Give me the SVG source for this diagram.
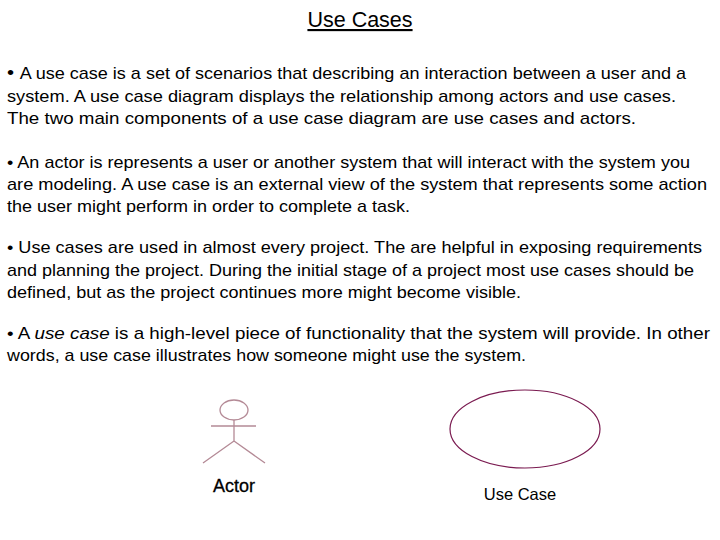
<svg xmlns="http://www.w3.org/2000/svg" width="720" height="540" viewBox="0 0 720 540">
<style>
text{font-family:"Liberation Sans",Arial,sans-serif;fill:#000}
.b{font-size:17px}
.fig{fill:none;stroke:#b48a96;stroke-width:1.3}
</style>
<rect width="720" height="540" fill="#fff"/>
<text x="360" y="27" font-size="21.5" text-anchor="middle" text-decoration="underline">Use Cases</text>
<g class="b">
<text x="7" y="79" textLength="679" lengthAdjust="spacingAndGlyphs"><tspan font-size="19">• </tspan>A use case is a set of scenarios that describing an interaction between a user and a</text>
<text x="7" y="102" textLength="669" lengthAdjust="spacingAndGlyphs">system.  A use case diagram displays the relationship among actors and use cases.</text>
<text x="7" y="124" textLength="629" lengthAdjust="spacingAndGlyphs">The two main components of a use case diagram are use cases and actors.</text>
<text x="7" y="168" textLength="683" lengthAdjust="spacingAndGlyphs">• An actor is represents a user or another system that will interact with the system you</text>
<text x="7" y="190" textLength="700" lengthAdjust="spacingAndGlyphs">are modeling.  A use case is an external view of the system that represents some action</text>
<text x="7" y="212" textLength="403" lengthAdjust="spacingAndGlyphs">the user might perform in order to complete a task.</text>
<text x="7" y="253" textLength="695" lengthAdjust="spacingAndGlyphs">• Use cases are used in almost every project.  The are helpful in exposing requirements</text>
<text x="7" y="276" textLength="687" lengthAdjust="spacingAndGlyphs">and planning the project. During the initial stage of a project most use cases should be</text>
<text x="7" y="298" textLength="514" lengthAdjust="spacingAndGlyphs">defined, but as the project continues more might become visible.</text>
<text x="7" y="339" textLength="703" lengthAdjust="spacingAndGlyphs">• A <tspan font-style="italic">use case</tspan> is a high-level piece of functionality that the system will provide. In other</text>
<text x="7" y="361" textLength="519" lengthAdjust="spacingAndGlyphs">words, a use case illustrates how someone might use the system.</text>
</g>
<g id="actor">
<ellipse class="fig" cx="234" cy="410" rx="14" ry="10"/>
<path class="fig" d="M234 420V441M211 426H256M234 441L203 463M234 441L265 463"/>
<text x="234" y="492" font-size="18" text-anchor="middle" stroke="#000" stroke-width="0.3">Actor</text>
</g>
<g id="usecase">
<ellipse cx="525" cy="429" rx="75" ry="39" fill="none" stroke="#7a1a50" stroke-width="1.2"/>
<text x="520" y="500" font-size="16.5" text-anchor="middle">Use Case</text>
</g>
<g id="connectors"/>
</svg>
